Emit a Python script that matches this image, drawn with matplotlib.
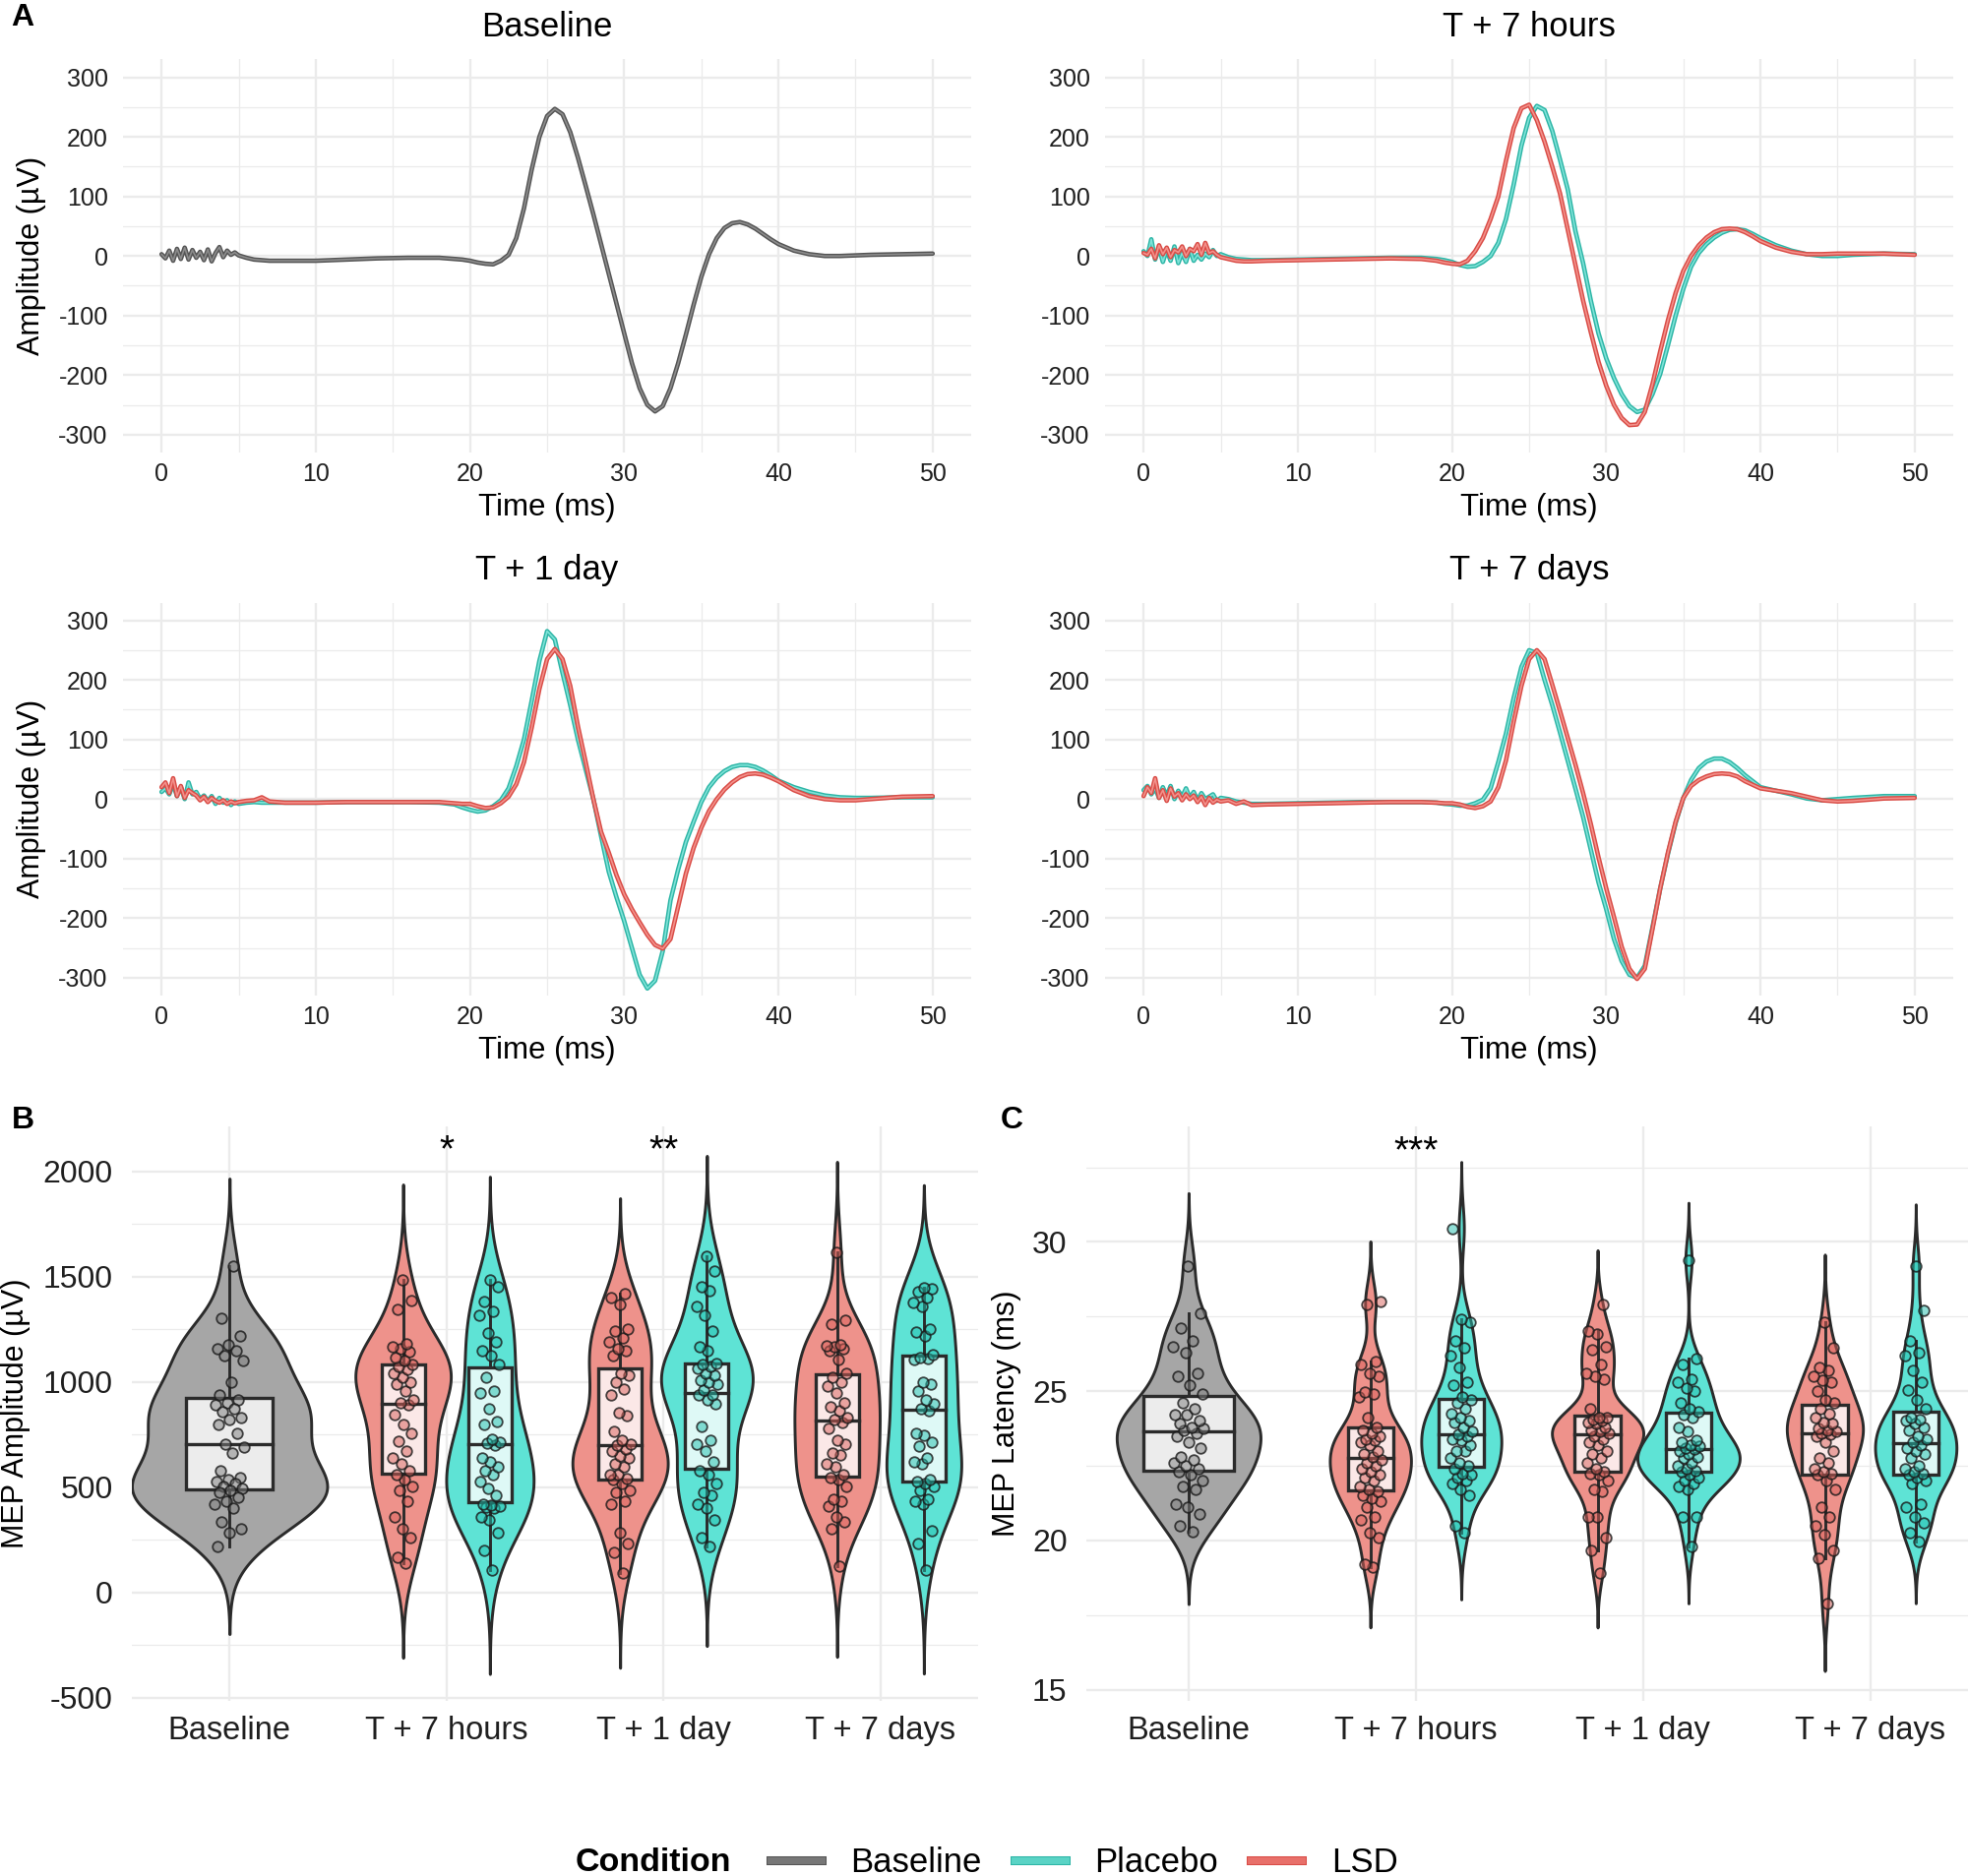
import numpy as np
import matplotlib
matplotlib.use("Agg")
import matplotlib.pyplot as plt
import matplotlib.patheffects as pe
from matplotlib.colors import to_rgba
from matplotlib.lines import Line2D
from matplotlib.patches import Rectangle

plt.rcParams['font.family'] = ['Liberation Sans', 'DejaVu Sans']
plt.rcParams['axes.unicode_minus'] = False

# ---------------- panel A: averaged MEP waveforms ----------------
# sampling times (ms): fine in the artefact, coarse on the flat part, 0.5 ms over the MEP
T_MS = np.concatenate([np.arange(0, 5.01, 0.25),
                       [5.5, 6, 6.5, 7, 8, 10, 12, 14, 16, 18, 19, 19.5],
                       np.arange(20, 40.01, 0.5),
                       [41, 42, 43, 44, 45, 46, 48, 50]])

WAVE_TITLES = ['Baseline', 'T + 7 hours', 'T + 1 day', 'T + 7 days']

WAVE_BASELINE = ([3, -4, 9, -8, 12, -5, 14, -6, 10, -3, 7, -7, 11, -9, 5, 15, -2, 9, 2, 6, 1]
                 + [-3, -6, -7, -8, -8, -8, -6, -4, -3, -3, -5, -6]
                 + [-8, -11, -13, -14, -8, 2, 30, 80, 145, 200, 235, 247, 238, 208, 165, 118, 70, 20,
                    -30, -80, -130, -180, -222, -250, -261, -252, -222, -180, -132, -82, -35, 3, 30,
                    47, 55, 57, 53, 46, 37, 28, 20]
                 + [9, 3, 0, 0, 1, 2, 3, 4])

WAVE_LSD_7H = ([5, 2, 12, -4, 18, 3, 14, -2, 10, 6, 16, 0, 12, 8, 20, 2, 22, 5, 8, 2, -2]
               + [-5, -8, -9, -9, -8, -7, -6, -5, -4, -5, -8, -11]
               + [-13, -14, -8, 8, 30, 62, 100, 160, 215, 248, 254, 228, 192, 150, 105, 45, -15,
                  -75, -128, -178, -218, -250, -272, -284, -283, -262, -215, -160, -108, -62, -25,
                  0, 18, 31, 40, 45, 46, 45, 40, 33, 25]
               + [14, 7, 3, 3, 4, 4, 4, 2])
WAVE_PLA_7H = ([8, 0, 28, -6, 14, -10, 10, -8, 16, -12, 5, -10, 12, -8, 2, -6, 4, -2, 10, 0, 3]
               + [-2, -5, -6, -7, -7, -6, -5, -4, -3, -3, -5, -7]
               + [-10, -15, -18, -17, -10, 0, 22, 62, 120, 185, 232, 252, 245, 210, 162, 112, 42,
                  -12, -75, -130, -172, -205, -232, -252, -262, -258, -232, -198, -150, -100, -55,
                  -18, 5, 20, 31, 39, 44, 45, 43, 37, 30]
               + [18, 9, 3, 0, 0, 2, 4, 3])

WAVE_LSD_1D = ([20, 28, 10, 35, 5, 22, 2, 15, 10, 6, -2, 4, -5, 2, -3, -6, -2, -8, -4, -7, -5]
               + [-3, -2, 3, -4, -6, -6, -5, -5, -5, -5, -7, -8]
               + [-8, -12, -15, -14, -7, 4, 25, 62, 120, 185, 235, 252, 235, 190, 122, 62, 0,
                  -55, -90, -128, -160, -185, -207, -228, -245, -251, -235, -180, -125, -82, -48,
                  -20, 0, 16, 28, 37, 42, 43, 41, 36, 30]
               + [15, 5, 0, -2, -2, 0, 4, 5])
WAVE_PLA_1D = ([12, 18, 8, 25, 5, 20, 0, 28, 8, 12, 0, 6, -3, 5, -8, 2, -6, -2, -10, -4, -8]
               + [-6, -5, -6, -6, -6, -6, -5, -5, -5, -6, -9, -14]
               + [-18, -21, -19, -12, -2, 18, 55, 100, 165, 232, 282, 268, 212, 158, 100, 50, 0,
                  -62, -122, -165, -205, -250, -295, -318, -305, -255, -170, -118, -72, -38, -5,
                  20, 36, 47, 54, 57, 57, 54, 48, 40, 31]
               + [20, 12, 6, 3, 2, 2, 3, 3])

WAVE_LSD_7D = ([5, 20, 10, 35, 2, 15, -3, 18, 4, 10, -2, 8, 0, 6, -5, 4, -10, 2, -6, -1, -4]
               + [-2, -8, -4, -10, -9, -8, -7, -6, -5, -5, -6, -7]
               + [-7, -9, -13, -15, -12, -4, 20, 65, 130, 190, 235, 250, 235, 192, 148, 103, 58,
                  10, -42, -98, -150, -198, -248, -285, -302, -285, -218, -150, -90, -38, 2, 22,
                  32, 38, 42, 43, 42, 38, 30, 24, 18]
               + [14, 10, 4, -2, -4, -3, 1, 2])
WAVE_PLA_7D = ([15, 22, 8, 18, 2, 20, 5, 22, 0, 14, 4, 18, 2, 12, -2, 10, 0, 4, 8, -3, 2]
               + [0, -4, -6, -8, -8, -7, -6, -5, -5, -5, -6, -8]
               + [-9, -11, -11, -7, -1, 18, 62, 110, 170, 222, 250, 245, 200, 158, 112, 65, 18,
                  -30, -85, -140, -185, -235, -272, -295, -300, -280, -215, -150, -92, -40, 2, 32,
                  52, 63, 68, 68, 62, 52, 40, 30, 20]
               + [14, 8, 1, -2, 0, 2, 5, 5])

# ---------------- panels B and C: per-subject MEP measures ----------------
SESSIONS = ['Baseline', 'T + 7 hours', 'T + 1 day', 'T + 7 days']

AMP_BASELINE = [1549, 1305, 1221, 1179, 1160, 1147, 1126, 1101, 1000, 937, 916, 900, 891, 874, 860,
                832, 821, 800, 758, 705, 690, 663, 579, 547, 537, 526, 516, 505, 495, 484, 474, 453,
                432, 421, 400, 337, 305, 284, 221]
AMP_LSD_7H = [141, 168, 263, 305, 358, 432, 484, 505, 537, 558, 579, 610, 642, 674, 720, 758, 800,
              845, 890, 900, 916, 958, 989, 1000, 1021, 1040, 1060, 1075, 1085, 1101, 1116, 1143,
              1158, 1168, 1180, 1347, 1389, 1488]
AMP_PLA_7H = [105, 200, 284, 347, 358, 400, 405, 410, 415, 420, 463, 495, 526, 558, 579, 600, 620,
              642, 700, 710, 716, 730, 800, 811, 874, 947, 958, 1021, 1084, 1126, 1147, 1189, 1232,
              1316, 1337, 1383, 1453, 1484]
AMP_LSD_1D = [95, 189, 232, 284, 421, 432, 474, 484, 520, 537, 540, 558, 560, 600, 610, 642, 650,
              674, 684, 700, 705, 726, 768, 842, 853, 937, 968, 1000, 1032, 1042, 1126, 1147, 1158,
              1189, 1211, 1242, 1253, 1368, 1400, 1421]
AMP_PLA_1D = [221, 263, 347, 400, 421, 463, 474, 516, 558, 579, 621, 674, 705, 726, 789, 895, 916,
              937, 940, 960, 989, 1000, 1010, 1032, 1040, 1063, 1075, 1084, 1090, 1147, 1168, 1242,
              1316, 1358, 1432, 1453, 1526, 1600]
AMP_LSD_7D = [126, 305, 337, 358, 410, 432, 442, 505, 537, 547, 558, 600, 611, 653, 663, 705, 726,
              780, 810, 821, 832, 863, 884, 900, 947, 980, 1000, 1021, 1042, 1105, 1147, 1160, 1168,
              1173, 1179, 1274, 1295, 1615]
AMP_PLA_7D = [105, 232, 295, 421, 432, 445, 484, 505, 520, 526, 537, 611, 621, 642, 695, 716, 747,
              758, 863, 874, 895, 916, 958, 989, 1000, 1105, 1110, 1116, 1130, 1221, 1236, 1250,
              1358, 1379, 1400, 1430, 1442, 1446]

LAT_BASELINE = [20.3, 20.5, 20.9, 21.1, 21.2, 21.7, 21.8, 22.0, 22.2, 22.3, 22.4, 22.5, 22.6, 22.7,
                22.8, 23.1, 23.3, 23.5, 23.6, 23.7, 23.75, 23.8, 23.9, 24.0, 24.2, 24.2, 24.4, 24.6,
                24.9, 25.2, 25.5, 25.6, 26.3, 26.5, 26.7, 27.1, 27.6, 29.2]
LAT_LSD_7H = [19.1, 19.2, 20.1, 20.25, 20.7, 20.8, 21.1, 21.3, 21.4, 21.5, 21.65, 21.7, 21.8, 22.0,
              22.1, 22.2, 22.3, 22.4, 22.5, 22.6, 22.7, 22.8, 22.9, 23.0, 23.2, 23.3, 23.35, 23.4,
              23.5, 23.6, 23.7, 23.8, 24.1, 24.8, 24.9, 24.97, 25.5, 25.6, 25.9, 26.0, 27.9, 28.0]
LAT_PLA_7H = [20.25, 20.5, 21.5, 21.7, 21.9, 22.0, 22.1, 22.2, 22.25, 22.4, 22.5, 22.6, 22.75,
              22.98, 23.0, 23.2, 23.35, 23.4, 23.5, 23.55, 23.65, 23.8, 23.95, 24.0, 24.1, 24.25,
              24.4, 24.6, 24.7, 24.8, 25.2, 25.3, 25.8, 26.2, 26.45, 26.7, 27.3, 27.4, 30.45]
LAT_LSD_1D = [18.9, 19.65, 20.1, 20.8, 20.8, 21.65, 21.7, 22.0, 22.2, 22.25, 22.3, 22.4, 22.6,
              22.75, 22.9, 23.0, 23.2, 23.3, 23.4, 23.5, 23.6, 23.65, 23.7, 23.8, 23.9, 23.95, 24.0,
              24.05, 24.1, 24.1, 24.4, 25.4, 25.5, 25.6, 25.9, 26.4, 26.5, 26.9, 27.0, 27.9]
LAT_PLA_1D = [19.8, 20.8, 20.8, 21.7, 21.8, 21.9, 22.0, 22.1, 22.2, 22.3, 22.35, 22.4, 22.5, 22.6,
              22.75, 22.8, 22.9, 23.0, 23.05, 23.1, 23.15, 23.2, 23.3, 23.35, 23.65, 23.8, 24.1,
              24.2, 24.3, 24.4, 24.6, 25.0, 25.1, 25.3, 25.4, 25.9, 26.1, 29.4]
LAT_LSD_7D = [17.9, 19.4, 19.65, 20.2, 20.5, 20.8, 21.1, 21.7, 22.0, 22.2, 22.25, 22.3, 22.4, 22.6,
              22.75, 23.0, 23.3, 23.5, 23.55, 23.6, 23.65, 23.7, 23.75, 23.9, 23.95, 24.1, 24.25,
              24.4, 24.6, 24.7, 25.0, 25.3, 25.35, 25.5, 25.7, 25.8, 26.45, 27.3]
LAT_PLA_7D = [19.95, 20.25, 20.6, 20.8, 21.1, 21.2, 21.9, 22.0, 22.1, 22.2, 22.25, 22.3, 22.4,
              22.5, 22.75, 22.9, 23.0, 23.1, 23.2, 23.3, 23.4, 23.5, 23.7, 23.8, 23.9, 24.0, 24.05,
              24.1, 24.4, 24.7, 25.05, 25.3, 25.7, 26.2, 26.3, 26.7, 27.7, 29.2]

AMP_STARS = {1: '*', 2: '**'}
LAT_STARS = {1: '***'}

# ---------------- styling ----------------
LINE_EDGE = {'Baseline': '#555555', 'Placebo': '#2db5a6', 'LSD': '#d94c46'}
LINE_FILL = {'Baseline': '#8c8c8c', 'Placebo': '#7fe3d8', 'LSD': '#f3918b'}
KEY_COL = {'Baseline': '#777777', 'Placebo': '#5ad3c5', 'LSD': '#e8706a'}
VIOLIN_COL = {'Baseline': '#a6a6a6', 'Placebo': '#5ee3d5', 'LSD': '#ee928b'}
POINT_COL = {'Baseline': '#7d7d7d', 'Placebo': '#22bfae', 'LSD': '#d9605a'}
DODGE = {'Baseline': 0.0, 'LSD': -0.2, 'Placebo': 0.2}
DARK = '#2b2b2b'
GRID = '#ebebeb'
TXT = '#1f1f1f'

fig = plt.figure(figsize=(20, 19.07), dpi=100)


def minimal(ax):
    for s in ax.spines.values():
        s.set_visible(False)
    ax.set_axisbelow(True)
    ax.grid(which='major', color=GRID, lw=1.7)
    ax.grid(which='minor', color=GRID, lw=0.9)
    ax.tick_params(which='both', length=0, colors=TXT)


def wave(ax, y, cond):
    ax.plot(T_MS, y, color=LINE_FILL[cond], lw=1.2, solid_capstyle='round',
            solid_joinstyle='round',
            path_effects=[pe.Stroke(linewidth=3.3, foreground=LINE_EDGE[cond],
                                    joinstyle='round', capstyle='round'), pe.Normal()])


wave_rects = [[0.0625, 0.7588, 0.431, 0.2095], [0.5615, 0.7588, 0.431, 0.2095],
              [0.0625, 0.4693, 0.431, 0.2095], [0.5615, 0.4693, 0.431, 0.2095]]
wave_sets = [[('Baseline', WAVE_BASELINE)],
             [('Placebo', WAVE_PLA_7H), ('LSD', WAVE_LSD_7H)],
             [('Placebo', WAVE_PLA_1D), ('LSD', WAVE_LSD_1D)],
             [('Placebo', WAVE_PLA_7D), ('LSD', WAVE_LSD_7D)]]

for i, (rect, title, curves) in enumerate(zip(wave_rects, WAVE_TITLES, wave_sets)):
    ax = fig.add_axes(rect)
    for cond, y in curves:
        wave(ax, y, cond)
    ax.set_xlim(-2.5, 52.5)
    ax.set_ylim(-330, 330)
    ax.set_xticks(range(0, 51, 10))
    ax.set_xticks(range(5, 50, 10), minor=True)
    ax.set_yticks(range(-300, 301, 100))
    ax.set_yticks(range(-250, 251, 100), minor=True)
    minimal(ax)
    ax.tick_params(axis='x', labelsize=18, pad=7)
    ax.tick_params(axis='y', labelsize=18, pad=11)
    ax.text(0.5, 1.083, title, transform=ax.transAxes, ha='center', va='center', fontsize=25)
    ax.set_xlabel('Time (ms)', fontsize=22.5)
    ax.xaxis.label.set_va('center')
    ax.xaxis.set_label_coords(0.5, -0.14)
    if i % 2 == 0:
        ax.set_ylabel('Amplitude (µV)', fontsize=22)
        ax.yaxis.label.set_va('center')
        ax.yaxis.set_label_coords(-0.108, 0.5)


# ---------------- violins ----------------
def gg_density(v):
    v = np.asarray(v, float)
    n = len(v)
    q75, q25 = np.percentile(v, [75, 25])
    bw = 0.9 * min(v.std(ddof=1), (q75 - q25) / 1.34) * n ** -0.2
    yy = np.linspace(v.min() - 3 * bw, v.max() + 3 * bw, 512)
    dd = np.exp(-0.5 * ((yy[:, None] - v[None, :]) / bw) ** 2).sum(1) / (n * bw * np.sqrt(2 * np.pi))
    return yy, dd


def violin_panel(ax, sets):
    dens = [gg_density(v) for _, _, v in sets]
    gmax = max(d.max() for _, d in dens)
    for (xi, cond, vals), (yy, dd) in zip(sets, dens):
        vals = np.asarray(vals, float)
        x = xi + DODGE[cond]
        single = cond == 'Baseline'
        vw = 0.9 if single else 0.45
        bw_ = 0.4 if single else 0.2
        jw = 0.07 if single else 0.05
        half = dd / gmax * vw / 2
        ax.fill_betweenx(yy, x - half, x + half, facecolor=VIOLIN_COL[cond], edgecolor=DARK,
                         lw=2.1, zorder=2)

        q1, med, q3 = np.percentile(vals, [25, 50, 75])
        iqr = q3 - q1
        lo = vals[vals >= q1 - 1.5 * iqr].min()
        hi = vals[vals <= q3 + 1.5 * iqr].max()
        ax.plot([x, x], [lo, q1], color=DARK, lw=2.1, zorder=3)
        ax.plot([x, x], [q3, hi], color=DARK, lw=2.1, zorder=3)
        ax.add_patch(Rectangle((x - bw_ / 2, q1), bw_, iqr, facecolor=(1, 1, 1, 0.8),
                               edgecolor=DARK, lw=2.4, zorder=3))
        ax.plot([x - bw_ / 2, x + bw_ / 2], [med, med], color=DARK, lw=2.4, zorder=4)

        k = np.arange(1, len(vals) + 1)
        jitter = ((k * 0.6180339887) % 1 - 0.5) * 2 * jw
        ax.scatter(x + jitter, vals, s=58, facecolor=to_rgba(POINT_COL[cond], 0.5),
                   edgecolor=to_rgba('#1a1a1a', 0.8), linewidth=1.3, zorder=5)


def cat_axes(ax, ylim, xmax, major, minor, ylabel, label_x, stars, star_y):
    ax.set_xlim(-0.45, xmax)
    ax.set_ylim(*ylim)
    ax.set_xticks(range(len(SESSIONS)))
    ax.set_xticklabels(SESSIONS)
    ax.set_yticks(major)
    ax.set_yticks(minor, minor=True)
    minimal(ax)
    ax.grid(which='minor', axis='x', visible=False)
    ax.tick_params(axis='x', labelsize=23.5, pad=11)
    ax.tick_params(axis='y', labelsize=23, pad=14)
    ax.set_ylabel(ylabel, fontsize=22)
    ax.yaxis.label.set_va('center')
    ax.yaxis.set_label_coords(label_x, 0.5)
    for xi, s in stars.items():
        ax.text(xi, star_y, s, ha='center', va='baseline', fontsize=28, color='black')


axb = fig.add_axes([0.067, 0.0933, 0.43, 0.3063])
axc = fig.add_axes([0.552, 0.0933, 0.448, 0.3063])

amp_sets = [(0, 'Baseline', AMP_BASELINE),
            (1, 'LSD', AMP_LSD_7H), (1, 'Placebo', AMP_PLA_7H),
            (2, 'LSD', AMP_LSD_1D), (2, 'Placebo', AMP_PLA_1D),
            (3, 'LSD', AMP_LSD_7D), (3, 'Placebo', AMP_PLA_7D)]
lat_sets = [(0, 'Baseline', LAT_BASELINE),
            (1, 'LSD', LAT_LSD_7H), (1, 'Placebo', LAT_PLA_7H),
            (2, 'LSD', LAT_LSD_1D), (2, 'Placebo', LAT_PLA_1D),
            (3, 'LSD', LAT_LSD_7D), (3, 'Placebo', LAT_PLA_7D)]

violin_panel(axb, amp_sets)
violin_panel(axc, lat_sets)
cat_axes(axb, (-515, 2215), 3.45, range(-500, 2001, 500), range(-250, 2001, 500),
         'MEP Amplitude (µV)', -0.137, AMP_STARS, 2050)
cat_axes(axc, (14.62, 33.87), 3.43, [15, 20, 25, 30], [17.5, 22.5, 27.5, 32.5],
         'MEP Latency (ms)', -0.09, LAT_STARS, 32.66)

# panel letters
for letter, (px, py) in {'A': (23, 18), 'B': (23, 1139), 'C': (1028, 1139)}.items():
    fig.text(px / 2000, 1 - py / 1907, letter, ha='center', va='center', fontsize=23,
             fontweight='bold')

# legend
legend_conds = ['Baseline', 'Placebo', 'LSD']
handles = [Line2D([0], [0], color=KEY_COL[c], lw=5,
                  path_effects=[pe.Stroke(linewidth=6.5, foreground=LINE_EDGE[c]), pe.Normal()])
           for c in legend_conds]
fig.text(585 / 2000, 0.0072, 'Condition', ha='left', va='center', fontsize=24.5,
         fontweight='bold')
fig.legend(handles, legend_conds, loc='center left', bbox_to_anchor=(0.3915, 0.0072), ncol=3,
           frameon=False, fontsize=25, handlelength=1.5, handletextpad=0.85, columnspacing=0.95,
           borderpad=0, borderaxespad=0)

fig.savefig('out.png', dpi=100, facecolor='white')
